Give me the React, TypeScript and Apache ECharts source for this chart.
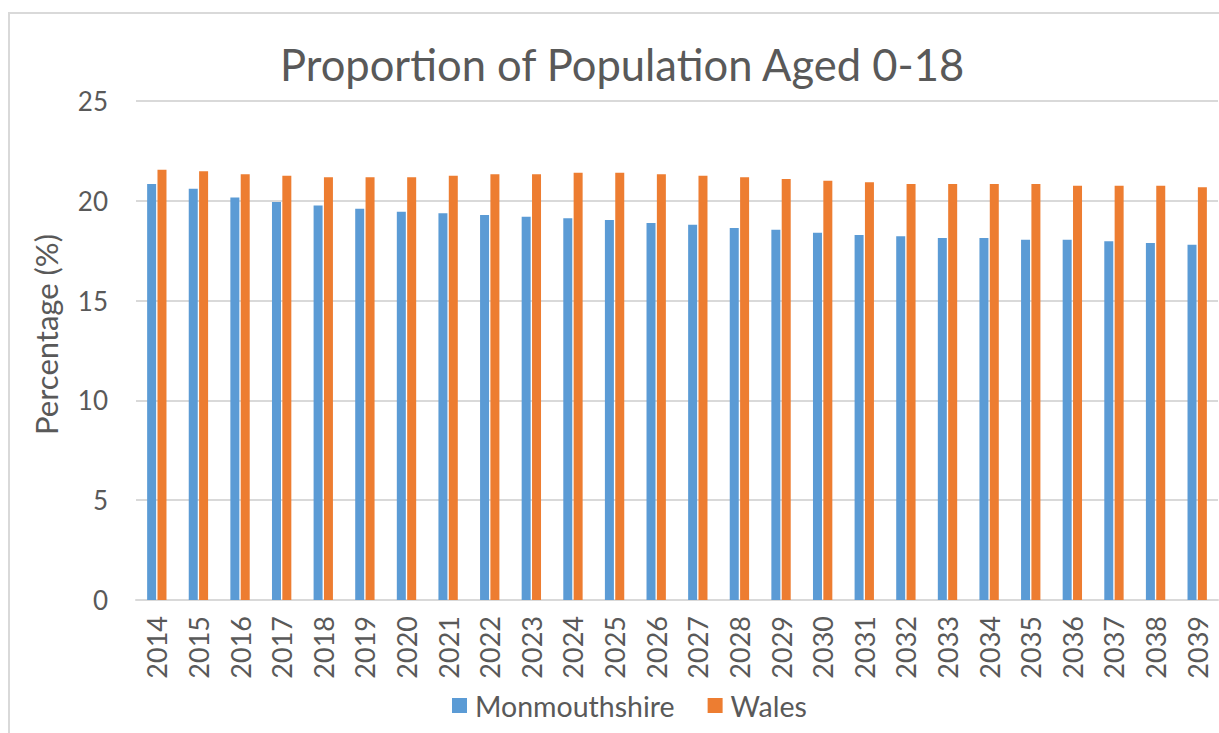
import React, { useEffect, useRef } from "react";
import * as echarts from "echarts";

const years = ["2014","2015","2016","2017","2018","2019","2020","2021","2022","2023","2024","2025","2026","2027","2028","2029","2030","2031","2032","2033","2034","2035","2036","2037","2038","2039"];
const monmouthshire = [20.84, 20.6, 20.17, 19.94, 19.77, 19.6, 19.45, 19.37, 19.29, 19.2, 19.12, 19.04, 18.89, 18.8, 18.64, 18.55, 18.4, 18.29, 18.22, 18.14, 18.14, 18.05, 18.05, 17.97, 17.89, 17.8];
const wales = [21.56, 21.48, 21.33, 21.26, 21.18, 21.18, 21.18, 21.26, 21.33, 21.33, 21.41, 21.41, 21.33, 21.26, 21.18, 21.09, 21.0, 20.93, 20.84, 20.84, 20.84, 20.84, 20.76, 20.76, 20.76, 20.68];
const yTicks = { min: 0, max: 25, interval: 5 };

const FONT = "Lato";
const TXT = "#595959";

export default function App() {
  const ref = useRef<HTMLDivElement>(null);
  useEffect(() => {
    const chart = echarts.init(ref.current!, null, { renderer: "svg" });
    chart.setOption({
      animation: false,
      backgroundColor: "#ffffff",
      textStyle: { fontFamily: FONT },
      title: {
        text: "Proportion of Population Aged 0-18",
        left: 275,
        top: 37,
        textStyle: { fontFamily: FONT, fontSize: 43.5, fontWeight: "normal", color: TXT },
      },
      graphic: [
        {
          type: "rect",
          shape: { x: 9, y: 13, width: 1220, height: 730 },
          style: { fill: "none", stroke: "#d9d9d9", lineWidth: 2 },
          silent: true,
        },
      ],
      legend: {
        bottom: 13,
        left: 452,
        padding: 0,
        itemWidth: 15,
        itemHeight: 15,
        itemGap: 33,
        icon: "rect",
        textStyle: { fontFamily: FONT, fontSize: 28.5, color: TXT, padding: [0, 0, 0, 3] },
        data: ["Monmouthshire", "Wales"],
      },
      grid: { left: 136, right: 1, top: 101, bottom: 133, containLabel: false },
      xAxis: {
        type: "category",
        data: years,
        axisLine: { lineStyle: { color: "#d9d9d9", width: 2 } },
        axisTick: { show: false },
        axisLabel: { rotate: 90, fontFamily: FONT, fontSize: 27, color: TXT, margin: 16 },
      },
      yAxis: {
        type: "value",
        min: yTicks.min,
        max: yTicks.max,
        interval: yTicks.interval,
        name: "Percentage (%)",
        nameLocation: "middle",
        nameGap: 75,
        nameTextStyle: { fontFamily: FONT, fontSize: 31, color: TXT, padding: [0, 0, 0, 32] },
        axisLine: { show: false },
        axisTick: { show: false },
        splitLine: { lineStyle: { color: "#d9d9d9", width: 2 } },
        axisLabel: { fontFamily: FONT, fontSize: 26, color: TXT, margin: 28 },
      },
      series: [
        {
          name: "Monmouthshire",
          type: "bar",
          data: monmouthshire,
          barWidth: 9,
          barGap: "15%",
          itemStyle: { color: "#5B9BD5" },
        },
        {
          name: "Wales",
          type: "bar",
          data: wales,
          barWidth: 9,
          itemStyle: { color: "#ED7D31" },
        },
      ],
    });
    return () => chart.dispose();
  }, []);
  return (
    <div
      ref={ref}
      style={{ position: "fixed", left: 0, top: 0, width: 1219, height: 733 }}
    />
  );
}
